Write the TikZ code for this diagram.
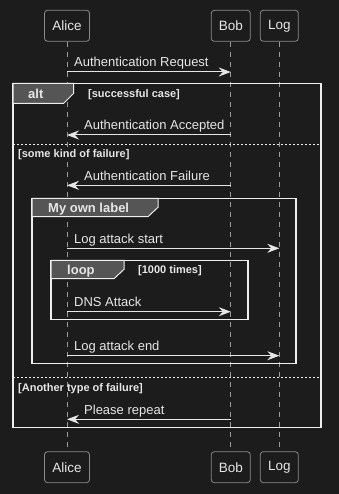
\documentclass[tikz,border=0pt]{standalone}
\usepackage{fontspec}
\setmainfont{Liberation Sans}
\usetikzlibrary{arrows.meta}
\definecolor{bg}{HTML}{1C1C1C}
\definecolor{fg}{HTML}{E6E6E6}
\definecolor{pgray}{HTML}{8A8A8A}
\definecolor{lgray}{HTML}{9A9A9A}
\definecolor{tabgray}{HTML}{555555}
\definecolor{fw}{HTML}{EEEEEE}
\begin{document}
\begin{tikzpicture}[x=1pt,y=-1pt,
  pbox/.style={draw=pgray, line width=0.8pt, rounded corners=3pt, fill=bg, text=fg,
    font=\fontsize{13.5}{15}\selectfont, inner sep=0pt, minimum height=31pt},
  life/.style={draw=lgray, line width=0.8pt, dash pattern=on 5pt off 5pt},
  msg/.style={draw=fg, line width=1pt, -{Stealth[length=12pt,width=9pt,inset=4pt]}},
  mtext/.style={anchor=base west, inner sep=0pt, text=fg, font=\fontsize{13}{15}\selectfont},
  frm/.style={draw=fw, line width=1.5pt},
  tabshape/.style={fill=tabgray, draw=fw, line width=1pt},
  tablabel/.style={anchor=base west, inner sep=0pt, text=fg, font=\fontsize{13}{15}\selectfont\bfseries},
  guard/.style={anchor=base west, inner sep=0pt, text=fg, font=\fontsize{11}{13}\selectfont\bfseries},
  sep/.style={draw=fw, line width=1pt, dash pattern=on 2pt off 2pt}
]
\useasboundingbox (0,0) rectangle (339,494);
\fill[bg] (0,0) rectangle (339,494);

% participants
\node[pbox, minimum width=45pt] (aliceT) at (67,25.8) {Alice};
\node[pbox, minimum width=39pt] (bobT) at (230.8,25.8) {Bob};
\node[pbox, minimum width=38pt] (logT) at (279.3,25.8) {Log};
\node[pbox, minimum width=45pt] (aliceB) at (67,467.2) {Alice};
\node[pbox, minimum width=39pt] (bobB) at (230.8,467.2) {Bob};
\node[pbox, minimum width=38pt] (logB) at (279.3,467.2) {Log};

% lifelines
\draw[life] (aliceT.south) -- (aliceB.north);
\draw[life] (bobT.south) -- (bobB.north);
\draw[life] (logT.south) -- (logB.north);

% message end points on lifelines
\coordinate (a1) at (67,72);   \coordinate (b1) at (230.8,72);
\coordinate (a2) at (67,135);  \coordinate (b2) at (230.8,135);
\coordinate (a3) at (67,185.3);\coordinate (b3) at (230.8,185.3);
\coordinate (a4) at (67,248.3);\coordinate (l4) at (279.3,248.3);
\coordinate (a5) at (67,311.7);\coordinate (b5) at (230.8,311.7);
\coordinate (a6) at (67,355.7);\coordinate (l6) at (279.3,355.7);
\coordinate (a7) at (67,419.3);\coordinate (b7) at (230.8,419.3);

% message 1
\draw[msg] (a1) -- (b1);
\node[mtext] (t1) at (74,67) {Authentication Request};

% alt frame
\draw[frm] (13,83.5) rectangle (321,427.3);
\draw[tabshape] (13,83.5) -- (73.5,83.5) -- (73.5,93.5) -- (63.5,103.5) -- (13,103.5) -- cycle;
\node[tablabel] (altl) at (28,99) {alt};
\node[guard] (g1) at (88,98) {[successful case]};

\draw[msg] (b2) -- (a2);
\node[mtext] (t2) at (84,130) {Authentication Accepted};

\draw[sep] (13,144.3) -- (321,144.3);
\node[guard] (g2) at (18,157.5) {[some kind of failure]};

\draw[msg] (b3) -- (a3);
\node[mtext] (t3) at (84,180.3) {Authentication Failure};

% My own label frame
\draw[frm] (32,198.3) rectangle (296,363.3);
\draw[tabshape] (32,198.3) -- (158,198.3) -- (158,207.3) -- (148,216.7) -- (32,216.7) -- cycle;
\node[tablabel] (myl) at (48,212.3) {My own label};

\draw[msg] (a4) -- (l4);
\node[mtext] (t4) at (74,243.3) {Log attack start};

% loop frame
\draw[frm] (51,260.3) rectangle (248,319.3);
\draw[tabshape] (51,260.3) -- (124,260.3) -- (124,269.3) -- (114,278.7) -- (51,278.7) -- cycle;
\node[tablabel] (loopl) at (67,274.6) {loop};
\node[guard] (g3) at (138,273.5) {[1000 times]};

\draw[msg] (a5) -- (b5);
\node[mtext] (t5) at (74,306.7) {DNS Attack};

\draw[msg] (a6) -- (l6);
\node[mtext] (t6) at (74,350.7) {Log attack end};

\draw[sep] (13,377.7) -- (321,377.7);
\node[guard] (g4) at (18,391.7) {[Another type of failure]};

\draw[msg] (b7) -- (a7);
\node[mtext] (t7) at (84,414.3) {Please repeat};
\end{tikzpicture}
\end{document}
